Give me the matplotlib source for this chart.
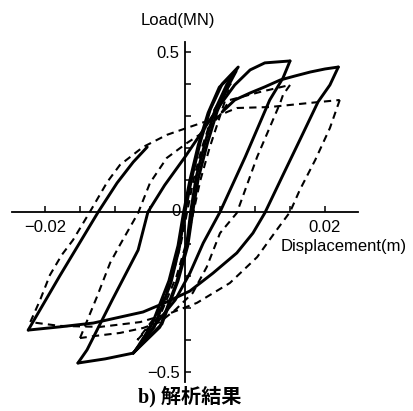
import matplotlib
matplotlib.use("Agg")
import matplotlib.pyplot as plt

# ---------------- data (displacement in m, load in MN) ----------------
# solid curves
small1_x = [-0.0074, -0.0036, -0.0012, 0.0002, 0.0008, 0.0016, 0.0029, 0.0043, 0.0060, 0.0076,
            0.0053, 0.0036, 0.0022, 0.0010, 0.0000, -0.0008, -0.0020, -0.0044, -0.0074]
small1_y = [-0.441, -0.360, -0.220, -0.110, 0.000, 0.110, 0.220, 0.320, 0.400, 0.453,
            0.400, 0.320, 0.220, 0.110, 0.000, -0.110, -0.220, -0.360, -0.441]
small2_x = [-0.0070, -0.0033, -0.0010, 0.0004, 0.0011, 0.0019, 0.0032, 0.0046, 0.0062, 0.0073,
            0.0049, 0.0033, 0.0019, 0.0007, -0.0002, -0.0010, -0.0023, -0.0047, -0.0070]
small2_y = [-0.430, -0.350, -0.215, -0.105, 0.000, 0.105, 0.215, 0.315, 0.395, 0.440,
            0.390, 0.310, 0.210, 0.100, 0.000, -0.105, -0.215, -0.350, -0.430]

med_unload_x = [0.0150, 0.0140, 0.0121, 0.0086, 0.0050, 0.0026, 0.0007, -0.0014, -0.0043, -0.0064, -0.0074,
                -0.0114, -0.0153]
med_unload_y = [0.472, 0.419, 0.350, 0.172, 0.000, -0.097, -0.191, -0.275, -0.353, -0.415, -0.441,
                -0.459, -0.472]
med_reload_x = [-0.0153, -0.0140, -0.0104, -0.0067, -0.0053, -0.0029, 0.0000, 0.0026, 0.0047, 0.0071,
                0.0093, 0.0114, 0.0150]
med_reload_y = [-0.472, -0.431, -0.275, -0.119, 0.000, 0.084, 0.172, 0.256, 0.325, 0.397,
                0.444, 0.466, 0.472]

big_load_x = [0.0053, 0.0071, 0.0093, 0.0114, 0.0136, 0.0157, 0.0179, 0.0200, 0.0219]
big_load_y = [0.3125, 0.350, 0.372, 0.391, 0.4125, 0.425, 0.4375, 0.447, 0.453]
big_unload_x = [0.0219, 0.0207, 0.0190, 0.0164, 0.0140, 0.0114, 0.0097, 0.0074, 0.0040, 0.0007,
                -0.0029, -0.0060, -0.0131, -0.0179, -0.0224]
big_unload_y = [0.453, 0.397, 0.344, 0.225, 0.116, -0.003, -0.066, -0.128, -0.191, -0.247,
                -0.284, -0.3125, -0.347, -0.359, -0.369]
big_reload_x = [-0.0224, -0.0179, -0.0124, -0.0097, -0.0074, -0.0054]
big_reload_y = [-0.369, -0.200, 0.000, 0.091, 0.156, 0.203]

# dashed curves
dsmall_x = [-0.0068, -0.0035, -0.0012, 0.0004, 0.0012, 0.0022, 0.0035, 0.0050, 0.0065,
            0.0042, 0.0024, 0.0012, 0.0003, -0.0006, -0.0018, -0.0040, -0.0068]
dsmall_y = [-0.400, -0.320, -0.200, -0.080, 0.000, 0.100, 0.200, 0.300, 0.400,
            0.320, 0.200, 0.100, 0.000, -0.100, -0.200, -0.320, -0.400]

dmed_unload_x = [0.0150, 0.0140, 0.0136, 0.0103, 0.0074, 0.0050, 0.0031, 0.0011, -0.0014, -0.0036,
                 -0.0060, -0.0093, -0.0129, -0.0150]
dmed_unload_y = [0.397, 0.366, 0.341, 0.172, -0.003, -0.066, -0.172, -0.253, -0.306, -0.344,
                 -0.3625, -0.378, -0.3875, -0.394]
dmed_reload_x = [-0.0150, -0.0126, -0.0107, -0.0093, -0.0067, -0.0050, -0.0026, 0.0003, 0.0031, 0.0050,
                 0.0064, 0.0107, 0.0150]
dmed_reload_y = [-0.394, -0.266, -0.159, -0.103, -0.003, 0.091, 0.169, 0.216, 0.256, 0.303,
                 0.350, 0.375, 0.397]

dbig_unload_x = [0.0221, 0.0207, 0.0186, 0.0164, 0.0150, 0.0131, 0.0103, 0.0064, 0.0017, -0.0021,
                 -0.0064, -0.0121, -0.0179, -0.0221]
dbig_unload_y = [0.350, 0.2625, 0.1625, 0.069, 0.000, -0.056, -0.141, -0.222, -0.284, -0.316,
                 -0.344, -0.359, -0.356, -0.344]
dbig_reload_x = [-0.0221, -0.0207, -0.0193, -0.0176, -0.0160, -0.0136, -0.0111, -0.0093, -0.0060, -0.0026,
                 0.0007, 0.0036, 0.0060, 0.0074, 0.0121, 0.0179, 0.0221]
dbig_reload_y = [-0.344, -0.275, -0.197, -0.134, -0.0875, 0.000, 0.094, 0.147, 0.203, 0.241,
                 0.266, 0.2875, 0.3125, 0.325, 0.328, 0.341, 0.350]

x_ticks = [-0.02, -0.015, -0.01, -0.005, 0.0, 0.005, 0.01, 0.015, 0.02]
x_ticklabels = ["\u22120.02", "", "", "", "", "", "", "", "0.02"]
y_ticks = [-0.5, -0.4, -0.3, -0.2, -0.1, 0.0, 0.1, 0.2, 0.3, 0.4, 0.5]
y_ticklabels = ["\u22120.5", "", "", "", "", "", "", "", "", "", "0.5"]

# ---------------- figure ----------------
W, H = 414, 411
fig = plt.figure(figsize=(W / 100, H / 100), dpi=100)
fig.patch.set_facecolor("white")
ax = fig.add_axes([0, 0, 1, 1])
ax.set_facecolor("white")
ax.set_xlim(-0.02643, 0.03271)
ax.set_ylim(-0.6219, 0.6625)

sans = ["Liberation Sans", "DejaVu Sans"]

solid_kw = dict(color="black", lw=2.1, solid_joinstyle="round", solid_capstyle="round")
dash_kw = dict(color="black", lw=1.5, linestyle=(0, (3.5, 2.5)))

for xs, ys in [(small1_x, small1_y), (small2_x, small2_y), (med_unload_x, med_unload_y),
               (med_reload_x, med_reload_y), (big_load_x, big_load_y),
               (big_unload_x, big_unload_y), (big_reload_x, big_reload_y)]:
    ax.plot(xs, ys, **solid_kw)

for xs, ys in [(dsmall_x, dsmall_y), (dmed_unload_x, dmed_unload_y), (dmed_reload_x, dmed_reload_y),
               (dbig_unload_x, dbig_unload_y), (dbig_reload_x, dbig_reload_y)]:
    ax.plot(xs, ys, **dash_kw)

# axes through the origin
for s in ["top", "right"]:
    ax.spines[s].set_visible(False)
ax.spines["left"].set_position(("data", 0))
ax.spines["bottom"].set_position(("data", 0))
ax.spines["left"].set_bounds(-0.531, 0.531)
ax.spines["bottom"].set_bounds(-0.0247, 0.0247)
ax.spines["left"].set_linewidth(1.3)
ax.spines["bottom"].set_linewidth(1.3)

ax.set_xticks(x_ticks)
ax.set_xticklabels(x_ticklabels)
ax.set_yticks(y_ticks)
ax.set_yticklabels(y_ticklabels)
ax.tick_params(axis="both", direction="in", length=4.5, width=1.1, labelsize=12)
ax.tick_params(axis="x", pad=6)
ax.tick_params(axis="y", pad=4)
for lab in ax.get_xticklabels() + ax.get_yticklabels():
    lab.set_family(sans)

ax.text(-0.0006, 0.0, "0", ha="right", va="center", fontsize=12, family=sans)

fig.text(178 / W, 1 - 20 / H, "Load(MN)", ha="center", va="center", fontsize=12, family=sans)
fig.text(344 / W, 1 - 246 / H, "Displacement(m)", ha="center", va="center", fontsize=12, family=sans)
fig.text(190 / W, 1 - 397 / H, "b) 解析結果", ha="center", va="center", fontsize=14.5,
         family=["Liberation Serif", "Noto Sans CJK JP"], weight="bold")

fig.savefig("out.png", dpi=100, facecolor="white")
